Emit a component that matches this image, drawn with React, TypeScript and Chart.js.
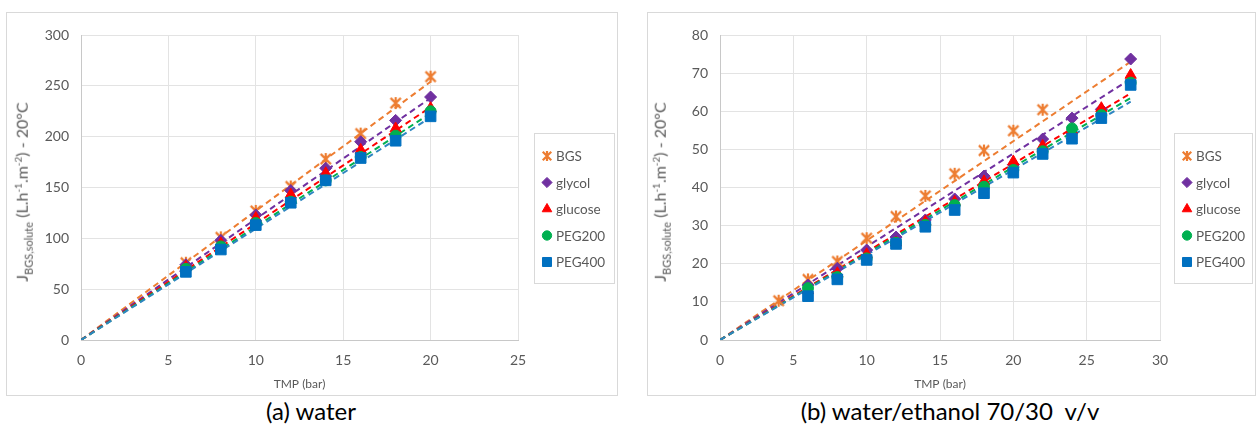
import React, { useEffect, useRef } from "react";
import { Chart, registerables } from "chart.js";
import { drawPoint } from "chart.js/helpers";

Chart.register(...registerables);

// ---------- data ----------
const SERIES_NAMES = ["BGS", "glycol", "glucose", "PEG200", "PEG400"];
const SERIES_COLORS = ["#ED7D31", "#7030A0", "#FF0000", "#00B050", "#0070C0"];
const TREND_COLORS = ["#ED7D31", "#7030A0", "#FF0000", "#00B050", "#2E86C1"];
const POINT_STYLES = ["asterisk", "rectRot", "triangle", "circle", "rect"];

// (a) water
const waterTMP = [6, 8, 10, 12, 14, 16, 18, 20];
const waterBGS = [76, 101, 127, 151, 178, 203, 233, 259];
const waterGlycol = [74, 98, 123, 147, 169, 195, 216, 239];
const waterGlucose = [72, 95, 120, 143, 164, 187, 208, 228];
const waterPEG200 = [70, 92, 115, 136, 157, 180, 201, 225];
const waterPEG400 = [67, 89, 113, 135, 157, 179, 196, 220];
const waterTrendX = [0, 20];
const waterTrendEnd = [254, 238, 229, 223, 219];
const waterXTicks = [0, 25, 5];
const waterYTicks = [0, 300, 50];

// (b) water/ethanol 70/30 v/v
const ethBGSTMP = [4, 6, 8, 10, 12, 14, 16, 18, 20, 22];
const ethTMP = [6, 8, 10, 12, 14, 16, 18, 20, 22, 24, 26, 28];
const ethBGS = [10.3, 15.9, 20.6, 26.7, 32.4, 37.8, 43.6, 49.7, 54.9, 60.4];
const ethGlycol = [14.4, 18.8, 23.6, 27, 31.5, 37, 43, 46, 52.7, 58.2, 60.5, 73.7];
const ethGlucose = [13, 17.5, 22.5, 25.5, 31, 36.2, 41.6, 46.8, 50.9, 55, 60.8, 69.5];
const ethPEG200 = [13.6, 16.5, 21.4, 25.5, 30.2, 35.4, 40.2, 44.6, 49.5, 55.5, 59, 67.5];
const ethPEG400 = [11.5, 15.9, 21, 25.2, 29.7, 34.1, 38.5, 43.9, 48.8, 52.8, 58.2, 66.9];
const ethTrendX = [0, 28];
const ethTrendEnd = [73, 68.5, 64.7, 63.5, 62.5];
const ethXTicks = [0, 30, 5];
const ethYTicks = [0, 80, 10];

const FONT = "Lato, 'Open Sans', sans-serif";
const TEXT_GRAY = "#595959";

// Excel-like asterisk marker (X with a vertical bar)
function makeAsterisk(size: number, color: string, lw: number) {
  const c = document.createElement("canvas");
  c.width = size;
  c.height = size;
  const g = c.getContext("2d")!;
  const m = size / 2;
  const r = size / 2 - 1;
  g.strokeStyle = color;
  g.lineWidth = lw;
  g.lineCap = "butt";
  g.beginPath();
  g.moveTo(m - r * 0.85, m - r * 0.85);
  g.lineTo(m + r * 0.85, m + r * 0.85);
  g.moveTo(m + r * 0.85, m - r * 0.85);
  g.lineTo(m - r * 0.85, m + r * 0.85);
  g.moveTo(m, m - r);
  g.lineTo(m, m + r);
  g.stroke();
  return c;
}

function styleFor(style: string, color: string, big: boolean): any {
  if (style === "asterisk") return makeAsterisk(big ? 14 : 12, color, 2.2);
  return style;
}

// ---------- legend plugin ----------
const boxLegend = {
  id: "boxLegend",
  afterDraw(chart: any, _args: any, opts: any) {
    if (!opts || !opts.items) return;
    const ctx = chart.ctx as CanvasRenderingContext2D;
    const { x, y, w, h, markerX, textX, firstY, gap, items } = opts;
    ctx.save();
    ctx.strokeStyle = "#d9d9d9";
    ctx.lineWidth = 1;
    ctx.strokeRect(Math.round(x) + 0.5, Math.round(y) + 0.5, w, h);
    items.forEach((it: any, i: number) => {
      const cy = firstY + i * gap;
      ctx.fillStyle = it.color;
      ctx.strokeStyle = it.color;
      ctx.lineWidth = 1;
      drawPoint(ctx, { pointStyle: it.style, radius: it.r, rotation: 0, borderWidth: 1 } as any, markerX, cy);
      ctx.fillStyle = TEXT_GRAY;
      ctx.font = `13.5px ${FONT}`;
      ctx.textBaseline = "middle";
      ctx.textAlign = "left";
      ctx.fillText(it.label, textX, cy + 1);
    });
    ctx.restore();
  },
};

type Cfg = {
  seriesX: number[][];
  seriesY: number[][];
  trendX: number[];
  trendEnd: number[];
  xTicks: number[];
  yTicks: number[];
  yWidth: number;
  padRight: number;
  legend: any;
};

function radiusFor(style: string) {
  if (style === "rect") return 7.5;
  if (style === "asterisk") return 7;
  if (style === "triangle") return 6.5;
  if (style === "rectRot") return 6;
  return 5.5;
}

function ScatterChart({ cfg, width, height }: { cfg: Cfg; width: number; height: number }) {
  const ref = useRef<HTMLCanvasElement | null>(null);
  useEffect(() => {
    if (!ref.current) return;
    const legendItems = SERIES_NAMES.map((name, i) => ({
      label: name,
      color: SERIES_COLORS[i],
      style: styleFor(POINT_STYLES[i], SERIES_COLORS[i], false),
      r: radiusFor(POINT_STYLES[i]) * 0.85,
    }));
    const markerSets = SERIES_NAMES.map((name, i) => ({
      type: "scatter" as const,
      label: name,
      data: cfg.seriesX[i].map((x, j) => ({ x, y: cfg.seriesY[i][j] })),
      pointStyle: styleFor(POINT_STYLES[i], SERIES_COLORS[i], true),
      pointRadius: radiusFor(POINT_STYLES[i]),
      backgroundColor: SERIES_COLORS[i],
      borderColor: SERIES_COLORS[i],
      borderWidth: 1,
      showLine: false,
      order: 10 - i,
    }));
    const trendSets = SERIES_NAMES.map((name, i) => ({
      type: "line" as const,
      label: name + " trend",
      data: [
        { x: cfg.trendX[0], y: 0 },
        { x: cfg.trendX[1], y: cfg.trendEnd[i] },
      ],
      borderColor: TREND_COLORS[i],
      borderWidth: 2,
      borderDash: [6, 4],
      pointRadius: 0,
      fill: false,
      order: 20 - i,
    }));
    const chart = new Chart(ref.current, {
      type: "scatter",
      data: { datasets: [...markerSets, ...trendSets] as any },
      options: {
        animation: false,
        responsive: false,
        maintainAspectRatio: false,
        layout: { padding: { left: 0, top: 22, right: cfg.padRight, bottom: 0 } },
        plugins: {
          legend: { display: false },
          tooltip: { enabled: false },
          boxLegend: { ...cfg.legend, items: legendItems },
        } as any,
        scales: {
          x: {
            type: "linear",
            min: cfg.xTicks[0],
            max: cfg.xTicks[1],
            ticks: { stepSize: cfg.xTicks[2], color: TEXT_GRAY, font: { size: 14, family: FONT }, padding: 12 },
            grid: { color: "#e3e3e3", drawTicks: false },
            border: { color: "#c8c8c8" },
            title: { display: true, text: "TMP (bar)", color: TEXT_GRAY, font: { size: 12, family: FONT }, padding: { top: 4, bottom: 4 } },
            afterFit: (s: any) => {
              s.height = 55;
            },
          },
          y: {
            type: "linear",
            min: cfg.yTicks[0],
            max: cfg.yTicks[1],
            ticks: { stepSize: cfg.yTicks[2], color: TEXT_GRAY, font: { size: 14, family: FONT }, padding: 12 },
            grid: { color: "#e3e3e3", drawTicks: false },
            border: { color: "#c8c8c8" },
            afterFit: (s: any) => {
              s.width = cfg.yWidth;
            },
          },
        },
      },
      plugins: [boxLegend as any],
    });
    return () => chart.destroy();
  }, [cfg]);
  return <canvas ref={ref} width={width} height={height} style={{ display: "block", width, height }} />;
}

const waterCfg: Cfg = {
  seriesX: [waterTMP, waterTMP, waterTMP, waterTMP, waterTMP],
  seriesY: [waterBGS, waterGlycol, waterGlucose, waterPEG200, waterPEG400],
  trendX: waterTrendX,
  trendEnd: waterTrendEnd,
  xTicks: waterXTicks,
  yTicks: waterYTicks,
  yWidth: 74,
  padRight: 99,
  legend: { x: 527, y: 120, w: 80, h: 150, markerX: 540, textX: 549, firstY: 143, gap: 26.5 },
};

const ethCfg: Cfg = {
  seriesX: [ethBGSTMP, ethTMP, ethTMP, ethTMP, ethTMP],
  seriesY: [ethBGS, ethGlycol, ethGlucose, ethPEG200, ethPEG400],
  trendX: ethTrendX,
  trendEnd: ethTrendEnd,
  xTicks: ethXTicks,
  yTicks: ethYTicks,
  yWidth: 72,
  padRight: 95,
  legend: { x: 526, y: 120, w: 78, h: 150, markerX: 539, textX: 548, firstY: 143, gap: 26.5 },
};

function YTitle({ left }: { left: number }) {
  return (
    <div
      style={{
        position: "absolute",
        left,
        top: 192,
        transform: "translate(-50%, -50%) rotate(-90deg)",
        whiteSpace: "nowrap",
        fontFamily: FONT,
        fontSize: 16,
        color: TEXT_GRAY,
        lineHeight: 1,
      }}
    >
      J<sub style={{ fontSize: 11 }}>BGS,solute</sub> (L.h<sup style={{ fontSize: 10 }}>-1</sup>.m<sup style={{ fontSize: 10 }}>-2</sup>) - 20°C
    </div>
  );
}

export default function App() {
  return (
    <div style={{ position: "absolute", left: 0, top: 0, width: 1258, height: 433, background: "#fff", overflow: "hidden" }}>
      <div style={{ position: "absolute", left: 6, top: 12, width: 610, height: 382, border: "1px solid #d9d9d9" }}>
        <ScatterChart cfg={waterCfg} width={610} height={382} />
      </div>
      <YTitle left={23} />
      <div style={{ position: "absolute", left: 647, top: 12, width: 607, height: 382, border: "1px solid #d9d9d9" }}>
        <ScatterChart cfg={ethCfg} width={607} height={382} />
      </div>
      <YTitle left={661} />
      <div style={{ position: "absolute", left: 0, width: 622, top: 396, textAlign: "center", fontFamily: FONT, fontSize: 24, lineHeight: "30px", color: "#000" }}>
        (a) water
      </div>
      <div style={{ position: "absolute", left: 640, width: 620, top: 396, textAlign: "center", fontFamily: FONT, fontSize: 24, lineHeight: "30px", color: "#000", whiteSpace: "pre" }}>
        (b) water/ethanol 70/30  v/v
      </div>
    </div>
  );
}
